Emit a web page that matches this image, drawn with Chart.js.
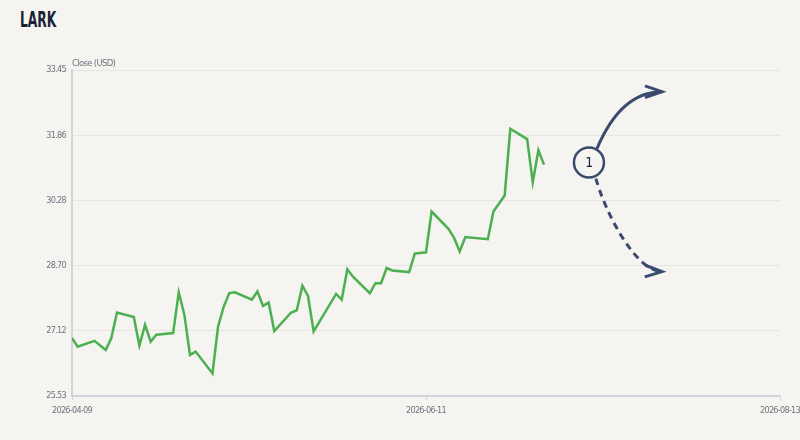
<!DOCTYPE html>
<html>
<head>
<meta charset="utf-8">
<script src="https://cdn.jsdelivr.net/npm/chart.js@4.4.1/dist/chart.umd.min.js"></script>
<style>
  html, body { margin: 0; padding: 0; background: #f5f4f0; }
  #wrap { position: relative; width: 800px; height: 440px; }
  #title { position: absolute; left: 20px; top: 7px; font: bold 22px 'Liberation Sans Narrow', 'DejaVu Sans Condensed', sans-serif; color: #1b2238; transform: scaleX(0.62); transform-origin: left top; }
  canvas { position: absolute; left: 0; top: 0; }
</style>
</head>
<body>
<div id="wrap">
  <div id="title">LARK</div>
  <canvas id="myChart" width="800" height="440"></canvas>
</div>
<script>
var dates = ['2026-04-09','2026-04-10','2026-04-13','2026-04-15','2026-04-16','2026-04-17',
  '2026-04-20','2026-04-21','2026-04-22','2026-04-23','2026-04-24',
  '2026-04-27','2026-04-28','2026-04-29','2026-04-30','2026-05-01',
  '2026-05-04','2026-05-05','2026-05-06','2026-05-07','2026-05-08',
  '2026-05-11','2026-05-12','2026-05-13','2026-05-14','2026-05-15',
  '2026-05-18','2026-05-19','2026-05-20','2026-05-21','2026-05-22',
  '2026-05-26','2026-05-27','2026-05-28','2026-05-29',
  '2026-06-01','2026-06-02','2026-06-03','2026-06-04','2026-06-05',
  '2026-06-08','2026-06-09','2026-06-11','2026-06-12',
  '2026-06-15','2026-06-16','2026-06-17','2026-06-18',
  '2026-06-22','2026-06-23','2026-06-25','2026-06-26',
  '2026-06-29','2026-06-30','2026-07-01','2026-07-02'];
var closes = [26.94,26.73,26.87,26.65,26.94,27.56,
  27.45,26.76,27.26,26.85,27.02,
  27.06,28.05,27.50,26.53,26.61,
  26.08,27.22,27.70,28.03,28.05,
  27.87,28.07,27.72,27.80,27.11,
  27.56,27.61,28.21,27.96,27.10,
  28.01,27.87,28.61,28.43,
  28.03,28.27,28.27,28.64,28.58,
  28.54,28.99,29.02,30.01,
  29.59,29.37,29.04,29.39,
  29.34,30.01,30.40,32.02,
  31.77,30.72,31.50,31.15];

var xTickDates = ['2026-04-09', '2026-06-11', '2026-08-13'];
var xTickLabels = ['2026-04-09', '2026-06-11', '2026-08-13'];
var yTickValues = [25.532, 27.115, 28.698, 30.281, 31.864, 33.447];
var yTickLabels = ['25.53', '27.12', '28.70', '30.28', '31.86', '33.45'];

// scenario marker: where the circle sits and where the two arrows point
var scenarioDate = '2026-07-10';
var scenarioValue = 31.20;
var scenarioEndDate = '2026-07-23';
var scenarioUp = 32.92;
var scenarioDown = 28.55;
var scenarioLabel = '1';

var FONT = "'Liberation Sans Narrow', 'DejaVu Sans Condensed', sans-serif";
var NAVY = '#3a4a6e';
var BG = '#f5f4f0';

function dayOf(d) {
  return (Date.parse(d) - Date.parse(dates[0])) / 86400000;
}

var points = dates.map(function(d, i) { return { x: dayOf(d), y: closes[i] }; });

var scenarioPlugin = {
  id: 'scenario',
  beforeDraw: function(chart) {
    // squeeze the canvas text, the original face is very narrow
    chart.ctx.letterSpacing = '-0.7px';
  },
  afterDatasetsDraw: function(chart) {
    var ctx = chart.ctx;
    var xs = chart.scales.x, ys = chart.scales.y;
    var ca = chart.chartArea;

    // axis caption
    ctx.save();
    ctx.font = '9.5px ' + FONT;
    ctx.fillStyle = '#70737f';
    ctx.textAlign = 'left';
    ctx.textBaseline = 'bottom';
    ctx.fillText('Close (USD)', ca.left, ca.top - 2);
    ctx.restore();

    var cx = xs.getPixelForValue(dayOf(scenarioDate));
    var cy = ys.getPixelForValue(scenarioValue);
    var ex = xs.getPixelForValue(dayOf(scenarioEndDate));
    var upY = ys.getPixelForValue(scenarioUp);
    var dnY = ys.getPixelForValue(scenarioDown);
    var r = 15;

    ctx.save();
    ctx.strokeStyle = NAVY;
    ctx.lineWidth = 3;
    ctx.lineCap = 'butt';

    // up arrow (solid)
    var sx = cx + 8, sy = cy - 14;
    var qx = sx + 0.37 * (ex - sx), qy = upY;
    ctx.beginPath();
    ctx.moveTo(sx, sy);
    ctx.quadraticCurveTo(qx, qy, ex, upY);
    ctx.stroke();
    drawHead(ctx, ex, upY, Math.atan2(upY - qy, ex - qx));

    // down arrow (dashed)
    var dx = cx + 7, dy = cy + 16;
    var c2x = ex - 28, c2y = dnY - 1;
    ctx.setLineDash([7, 5]);
    ctx.beginPath();
    ctx.moveTo(dx, dy);
    ctx.bezierCurveTo(dx + 8, dy + 30, c2x, c2y, ex, dnY);
    ctx.stroke();
    ctx.setLineDash([]);
    drawHead(ctx, ex, dnY, Math.atan2(dnY - c2y, ex - c2x));

    // circle
    ctx.beginPath();
    ctx.arc(cx, cy, r, 0, Math.PI * 2);
    ctx.fillStyle = BG;
    ctx.fill();
    ctx.lineWidth = 2.5;
    ctx.stroke();
    ctx.fillStyle = '#1b2238';
    ctx.font = '14px ' + FONT;
    ctx.textAlign = 'center';
    ctx.textBaseline = 'middle';
    ctx.fillText(scenarioLabel, cx, cy + 1);
    ctx.restore();
  }
};

function drawHead(ctx, x, y, ang) {
  var len = 18, spread = 0.33;
  ctx.beginPath();
  ctx.moveTo(x - len * Math.cos(ang - spread), y - len * Math.sin(ang - spread));
  ctx.lineTo(x, y);
  ctx.lineTo(x - len * Math.cos(ang + spread), y - len * Math.sin(ang + spread));
  ctx.stroke();
}

var ctx = document.getElementById('myChart').getContext('2d');
var myChart = new Chart(ctx, {
  type: 'line',
  data: {
    datasets: [{
      data: points,
      borderColor: '#4caf50',
      borderWidth: 2.5,
      pointRadius: 0,
      tension: 0,
      fill: false
    }]
  },
  options: {
    responsive: false,
    animation: false,
    layout: { padding: { top: 70, right: 20, left: 0, bottom: 0 } },
    plugins: {
      legend: { display: false },
      tooltip: { enabled: false }
    },
    scales: {
      x: {
        type: 'linear',
        min: dayOf(xTickDates[0]),
        max: dayOf(xTickDates[xTickDates.length - 1]),
        afterBuildTicks: function(scale) {
          scale.ticks = xTickDates.map(function(d) { return { value: dayOf(d) }; });
        },
        afterFit: function(scale) {
          scale.height = 44;
          scale.paddingLeft = 0;
          scale.paddingRight = 0;
        },
        border: { display: true, color: '#d3d4d9', width: 2 },
        grid: { display: true, drawOnChartArea: false, drawTicks: true, tickLength: 4, color: '#d3d4d9', tickWidth: 1 },
        ticks: {
          autoSkip: false,
          maxRotation: 0,
          padding: 5,
          color: '#70737f',
          font: { family: FONT, size: 9 },
          callback: function(v, i) { return xTickLabels[i]; }
        }
      },
      y: {
        min: yTickValues[0],
        max: yTickValues[yTickValues.length - 1],
        afterBuildTicks: function(scale) {
          scale.ticks = yTickValues.map(function(v) { return { value: v }; });
        },
        afterFit: function(scale) { scale.width = 72; },
        border: { display: true, color: '#d3d4d9', width: 2 },
        grid: { color: '#e6e5e1', lineWidth: 1, drawTicks: false },
        ticks: {
          padding: 6,
          color: '#70737f',
          font: { family: FONT, size: 9 },
          callback: function(v, i) { return yTickLabels[i]; }
        }
      }
    }
  },
  plugins: [scenarioPlugin]
});
</script>
</body>
</html>
